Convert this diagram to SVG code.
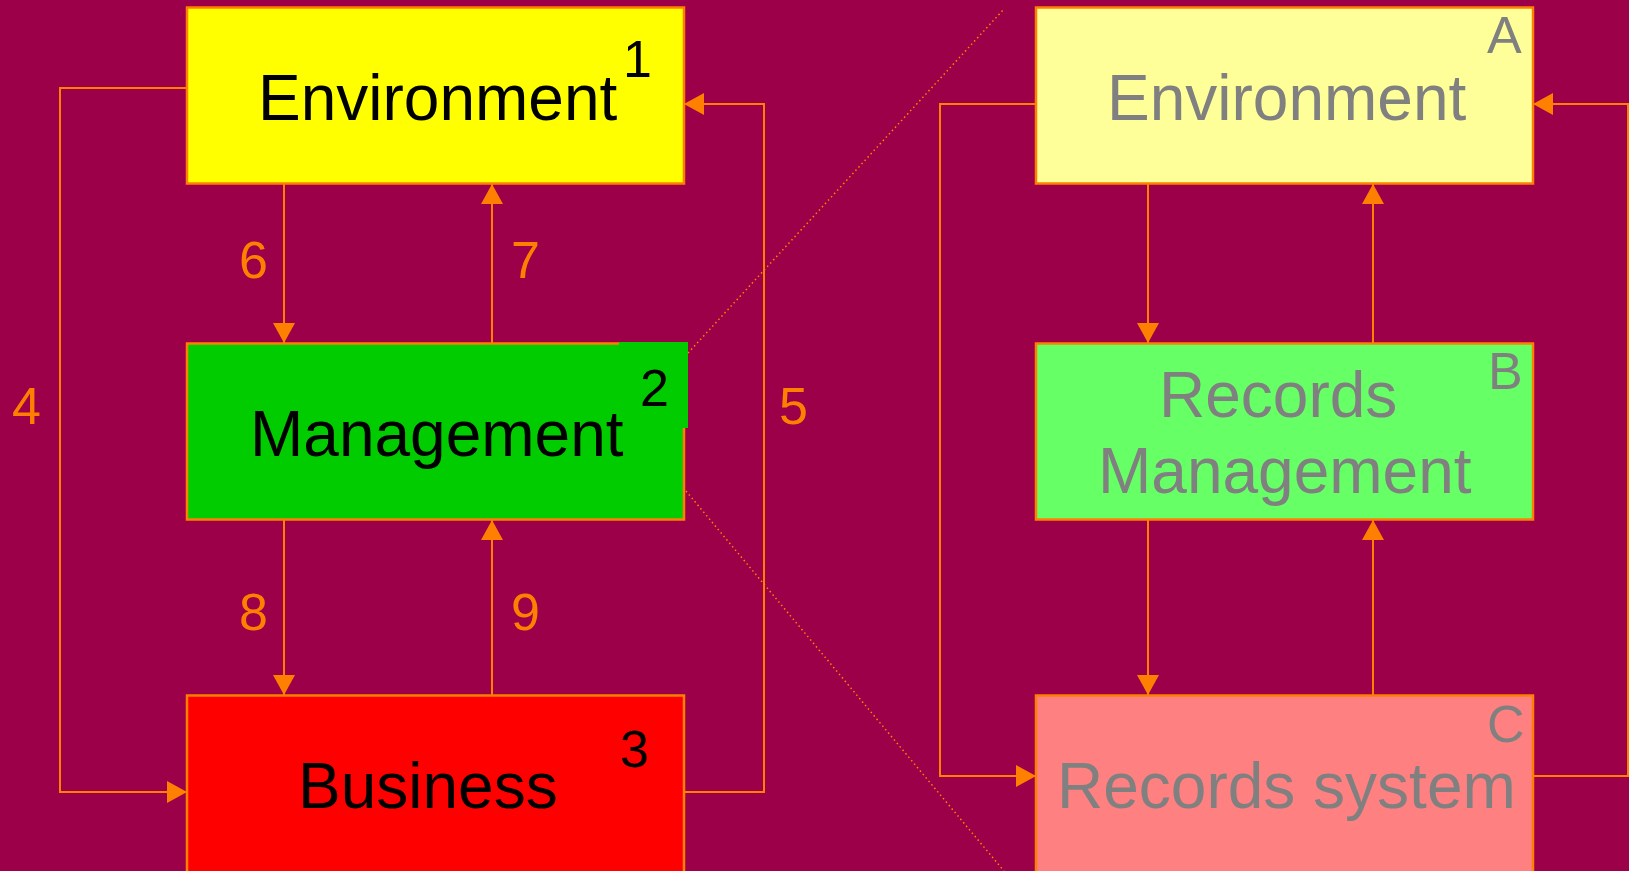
<svg xmlns="http://www.w3.org/2000/svg" width="1629" height="871" viewBox="0 0 1629 871">
  <style>
    .box { stroke: #FF8000; stroke-width: 2.5; }
    .wire { fill: none; stroke: #FF8000; stroke-width: 2; }
    .dot { fill: none; stroke: #FF8000; stroke-width: 1.5; stroke-dasharray: 1.5 3; }
    .big { font-family: "Liberation Sans", Arial, sans-serif; font-size: 64px; }
    .num { font-family: "Liberation Sans", Arial, sans-serif; font-size: 52px; }
    .ink { fill: #000000; }
    .grey { fill: #808080; }
    .lbl { fill: #FF8000; }
  </style>
  <defs>
    <marker id="head" viewBox="0 0 20 22" refX="20" refY="11" markerWidth="20" markerHeight="22" markerUnits="userSpaceOnUse" orient="auto">
      <path d="M0,0 L20,11 L0,22 Z" fill="#FF8000"/>
    </marker>
  </defs>

  <rect x="0" y="0" width="1629" height="871" fill="#9C0048"/>

  <!-- zoom guides linking node 2 to the detailed view -->
  <g id="guides">
    <line class="dot" x1="688" y1="353" x2="1004" y2="9"/>
    <line class="dot" x1="686" y1="491" x2="1004" y2="871"/>
  </g>

  <!-- left model -->
  <g id="env1">
    <rect class="box" x="187" y="7.5" width="497" height="176" fill="#FFFF00"/>
    <text class="big ink" x="258" y="120">Environment</text>
    <text class="num ink" x="623" y="77">1</text>
  </g>
  <g id="mgmt2">
    <rect class="box" x="187" y="343.5" width="497" height="176" fill="#00CC00"/>
    <rect x="619" y="342" width="69" height="86" fill="#00CC00"/>
    <text class="big ink" x="250" y="456">Management</text>
    <text class="num ink" x="640" y="406">2</text>
  </g>
  <g id="bus3">
    <rect class="box" x="187" y="695.5" width="497" height="190" fill="#FF0000"/>
    <text class="big ink" x="298" y="808">Business</text>
    <text class="num ink" x="620" y="767">3</text>
  </g>

  <!-- right model -->
  <g id="envA">
    <rect class="box" x="1036" y="7.5" width="497" height="176" fill="#FFFF99"/>
    <text class="big grey" x="1107" y="120">Environment</text>
    <text class="num grey" x="1487" y="53">A</text>
  </g>
  <g id="rmB">
    <rect class="box" x="1036" y="343.5" width="497" height="176" fill="#66FF66"/>
    <text class="big grey" x="1159" y="417">Records</text>
    <text class="big grey" x="1098" y="493">Management</text>
    <text class="num grey" x="1488" y="389">B</text>
  </g>
  <g id="rsC">
    <rect class="box" x="1036" y="695.5" width="497" height="190" fill="#FF8080"/>
    <text class="big grey" x="1057" y="808">Records system</text>
    <text class="num grey" x="1487" y="742">C</text>
  </g>

  <g id="connectors">
    <!-- left side -->
    <polyline class="wire" points="187,88 60,88 60,792 187,792" marker-end="url(#head)"/>
    <polyline class="wire" points="684,792 764,792 764,104 684,104" marker-end="url(#head)"/>
    <line class="wire" x1="284" y1="184" x2="284" y2="343" marker-end="url(#head)"/>
    <line class="wire" x1="492" y1="343" x2="492" y2="184" marker-end="url(#head)"/>
    <line class="wire" x1="284" y1="520" x2="284" y2="695" marker-end="url(#head)"/>
    <line class="wire" x1="492" y1="695" x2="492" y2="520" marker-end="url(#head)"/>
    <!-- right side -->
    <polyline class="wire" points="1036,104 940,104 940,776 1036,776" marker-end="url(#head)"/>
    <polyline class="wire" points="1533,776 1628,776 1628,104 1533,104" marker-end="url(#head)"/>
    <line class="wire" x1="1148" y1="184" x2="1148" y2="343" marker-end="url(#head)"/>
    <line class="wire" x1="1373" y1="343" x2="1373" y2="184" marker-end="url(#head)"/>
    <line class="wire" x1="1148" y1="520" x2="1148" y2="695" marker-end="url(#head)"/>
    <line class="wire" x1="1373" y1="695" x2="1373" y2="520" marker-end="url(#head)"/>
  </g>

  <g id="labels">
    <text class="num lbl" x="12" y="424">4</text>
    <text class="num lbl" x="779" y="424">5</text>
    <text class="num lbl" x="239" y="278">6</text>
    <text class="num lbl" x="511" y="278">7</text>
    <text class="num lbl" x="239" y="630">8</text>
    <text class="num lbl" x="511" y="630">9</text>
  </g>
</svg>
